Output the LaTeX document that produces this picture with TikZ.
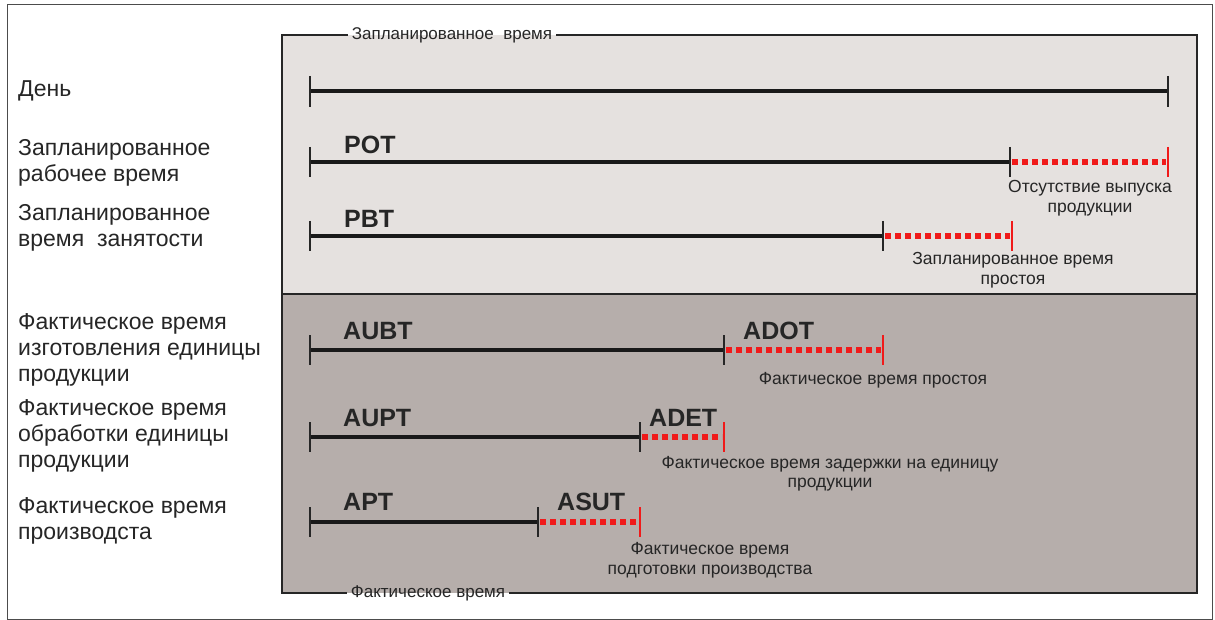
\documentclass[tikz,border=0pt]{standalone}
\usepackage{fontspec}
\setmainfont{Liberation Sans}
\usepackage{tikz}
\usetikzlibrary{positioning}
\definecolor{planfill}{HTML}{E5E1DF}
\definecolor{factfill}{HTML}{B6AEAB}
\definecolor{lossred}{HTML}{F01A1A}
\tikzset{
  tline/.style={line width=4pt, black!90},
  idle/.style={line width=6pt, lossred, dash pattern=on 6pt off 4pt},
  tick/.style={line width=1.6pt, black!85},
  redtick/.style={line width=1.6pt, lossred},
  rowlbl/.style={anchor=west, align=left, font=\fontsize{23}{26}\selectfont, text=black!85, inner sep=0pt},
  code/.style={anchor=south west, font=\fontsize{25}{27}\selectfont\bfseries, text=black!85, inner sep=0pt},
  note/.style={align=center, font=\fontsize{17.5}{19.5}\selectfont, text=black!85, inner sep=0pt},
  frametitle/.style={font=\fontsize{17}{19}\selectfont, text=black!85, inner sep=4pt},
  border/.style={black!85, line width=1.5pt}
}
\begin{document}
\begin{tikzpicture}[x=1pt, y=-1pt]
\useasboundingbox (0,0) rectangle (1215,620);
\fill[white] (0,0) rectangle (1215,620);
\draw[black!70, line width=1pt] (7,5) rectangle (1212,619);
% panels
\fill[planfill] (282,35) rectangle (1197,294);
\fill[factfill] (282,294) rectangle (1197,593);
\node[frametitle] (plantitle) at (452,35) {Запланированное\ \ время};
\node[frametitle] (facttitle) at (428,593) {Фактическое время};
\draw[border] (plantitle.west) -- (282,35) -- (282,593) -- (facttitle.west);
\draw[border] (plantitle.east) -- (1197,35) -- (1197,593) -- (facttitle.east);
\draw[border] (282,294) -- (1197,294);

% row labels
\node[rowlbl] (day) at (18,91) {День};
\node[rowlbl] (potlbl) at (18,163) {Запланированное\\рабочее время};
\node[rowlbl] (pbtlbl) at (18,228) {Запланированное\\время\ \ занятости};
\node[rowlbl] (aubtlbl) at (18,350) {Фактическое время\\изготовления единицы\\продукции};
\node[rowlbl] (auptlbl) at (18,436) {Фактическое время\\обработки единицы\\продукции};
\node[rowlbl] (aptlbl) at (18,521) {Фактическое время\\производста};

% day
\coordinate (d0) at (310,91);
\coordinate (d1) at (1168,91);
\draw[tline] (d0) -- (d1);
\draw[tick] (310,76) -- (310,107);
\draw[tick] (1168,76) -- (1168,107);

% POT
\draw[tline] (310,162) -- (1010,162);
\draw[idle] (1012,162) -- (1166,162);
\draw[tick] (310,147) -- (310,177);
\draw[tick] (1010,147) -- (1010,177);
\draw[redtick] (1168,147) -- (1168,177);
\node[code] (pot) at (344,154) {POT};
\node[note] (potloss) at (1090,198) {Отсутствие выпуска\\продукции};

% PBT
\draw[tline] (310,236) -- (883,236);
\draw[idle] (885,236) -- (1010,236);
\draw[tick] (310,221) -- (310,251);
\draw[tick] (883,221) -- (883,251);
\draw[redtick] (1012,221) -- (1012,251);
\node[code] (pbt) at (344,228) {PBT};
\node[note] (pbtloss) at (1013,270) {Запланированное время\\простоя};

% AUBT
\draw[tline] (310,350) -- (724,350);
\draw[idle] (726,350) -- (881,350);
\draw[tick] (310,335) -- (310,365);
\draw[tick] (724,335) -- (724,365);
\draw[redtick] (883,335) -- (883,365);
\node[code] (aubt) at (343,340) {AUBT};
\node[code] (adot) at (743,340) {ADOT};
\node[note] (aubtloss) at (873,380) {Фактическое время простоя};

% AUPT
\draw[tline] (310,437) -- (640,437);
\draw[idle] (642,437) -- (722,437);
\draw[tick] (310,422) -- (310,452);
\draw[tick] (640,422) -- (640,452);
\draw[redtick] (724,422) -- (724,452);
\node[code] (aupt) at (343,427) {AUPT};
\node[code] (adet) at (649,427) {ADET};
\node[note] (auptloss) at (830,474) {Фактическое время задержки на единицу\\продукции};

% APT
\draw[tline] (310,522) -- (538,522);
\draw[idle] (540,522) -- (638,522);
\draw[tick] (310,507) -- (310,537);
\draw[tick] (538,507) -- (538,537);
\draw[redtick] (640,507) -- (640,537);
\node[code] (apt) at (343,511) {APT};
\node[code] (asut) at (557,511) {ASUT};
\node[note] (aptloss) at (710,560) {Фактическое время\\подготовки производства};
\end{tikzpicture}
\end{document}
